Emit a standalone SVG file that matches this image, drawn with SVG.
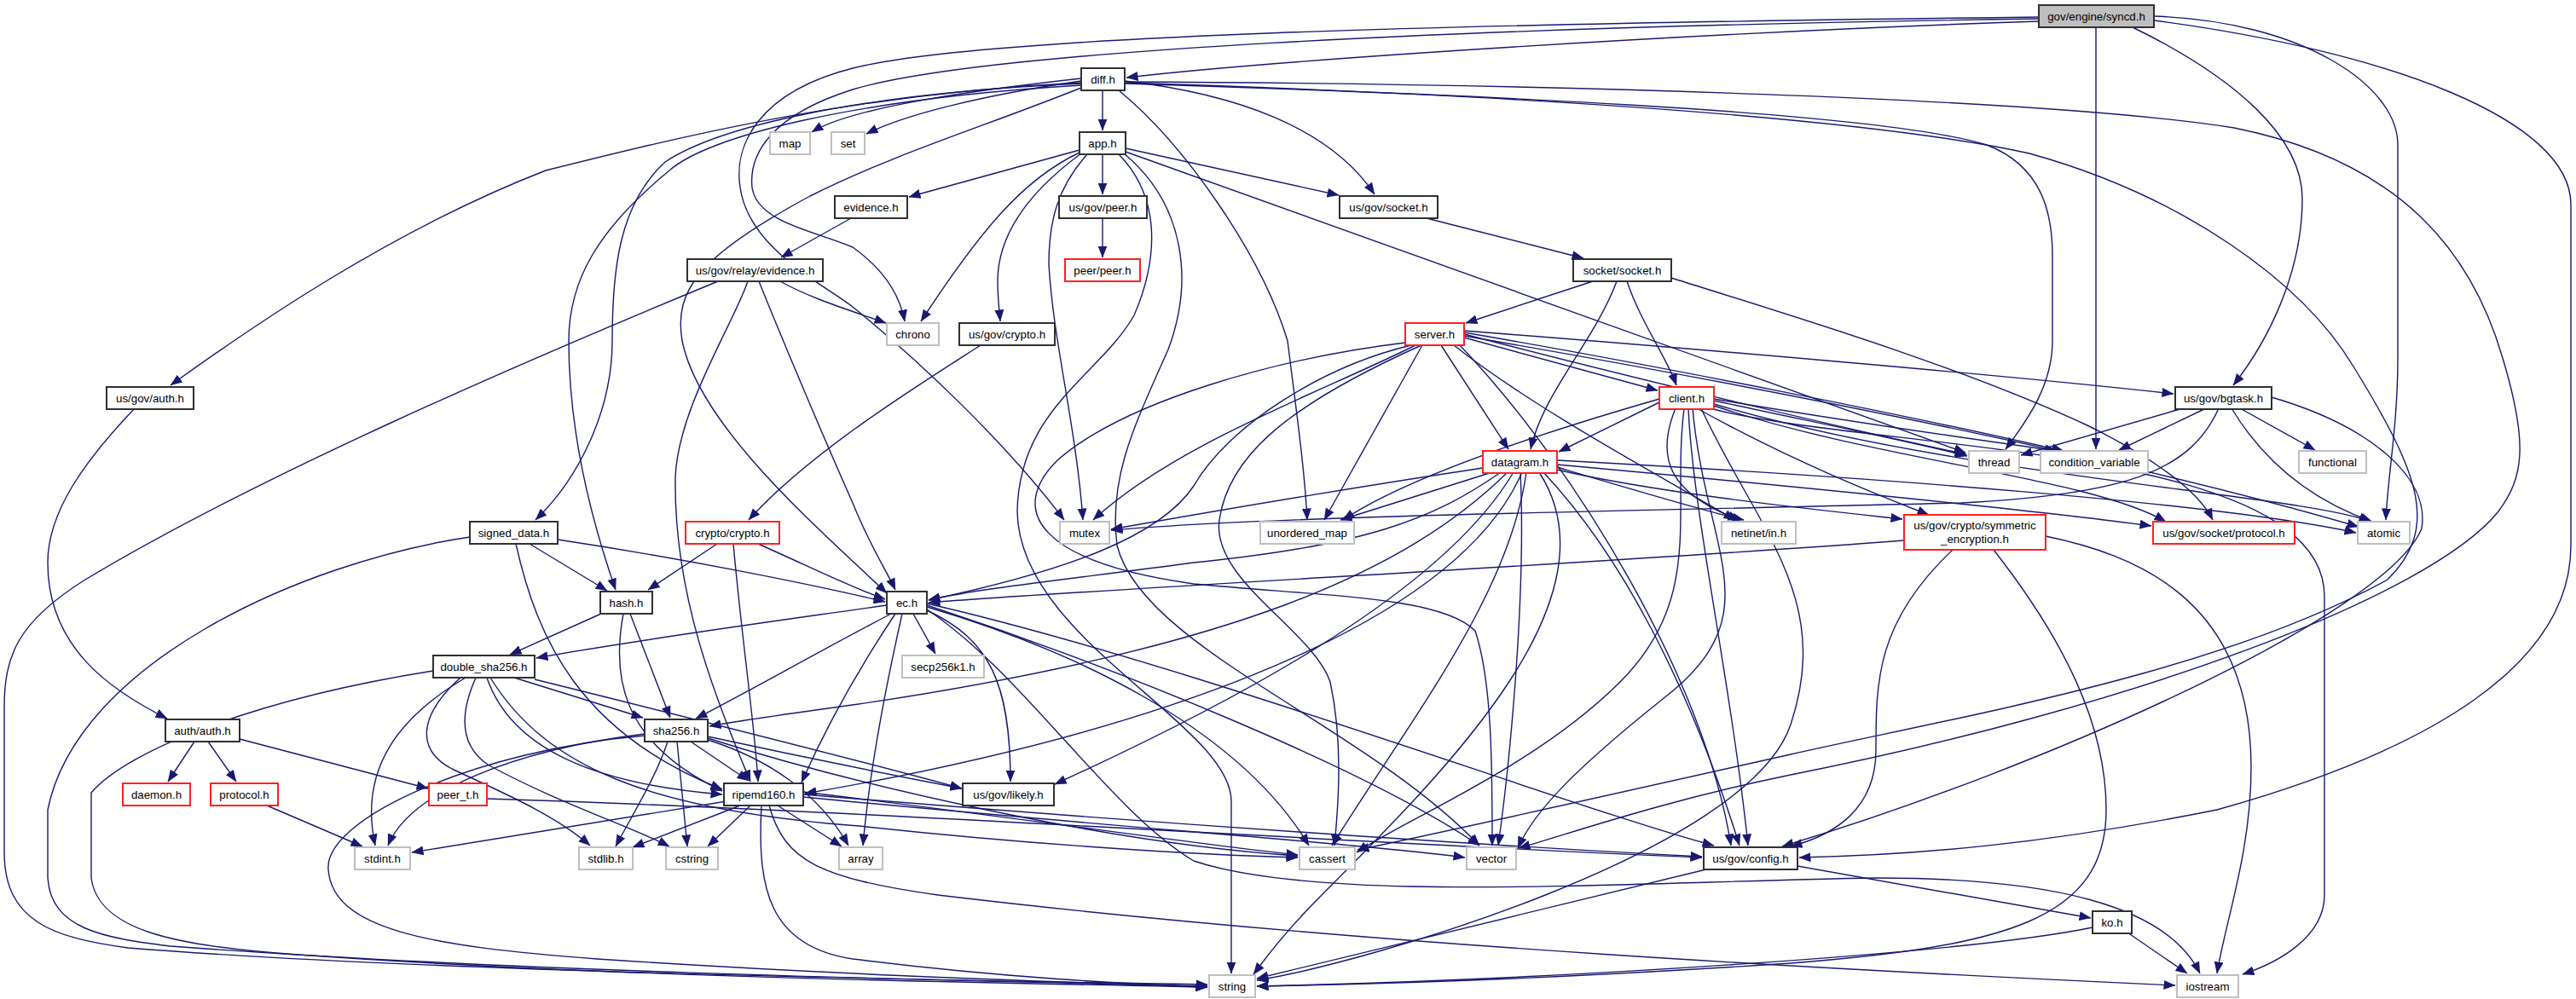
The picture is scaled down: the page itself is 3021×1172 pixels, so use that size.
<svg xmlns="http://www.w3.org/2000/svg" width="3021" height="1172" viewBox="0 0 3021 1172">
<defs>
<marker id="ah" viewBox="0 0 14 12" markerWidth="14" markerHeight="12" refX="13.5" refY="6" orient="auto" markerUnits="userSpaceOnUse"><path d="M0,0.5 L14,6 L0,11.5 z" fill="#191970"/></marker>
<style>
.e{fill:none;stroke:#191970;stroke-width:1.4;marker-end:url(#ah)}
.n rect{fill:#fff;stroke-width:2}
.b rect{stroke:#303030}
.g rect{stroke:#bfbfbf}
.r rect{stroke:#ff2020}
.cur rect{fill:#bfbfbf;stroke:#303030}
text{font-family:"Liberation Sans",Arial,Helvetica,sans-serif;font-size:13.3px;fill:#000;text-anchor:middle}
</style>
</defs>
<rect width="3021" height="1172" fill="#fff"/>
<g id="connectors">
<path class="e" d="M2391,25 C2000,38 1500,70 1321,91"/>
<path class="e" d="M2391,20 C1700,28 1150,42 1000,80 C890,108 860,170 868,220 C878,290 960,330 1000,360 C1080,425 1180,520 1248,610"/>
<path class="e" d="M2391,22 C1700,32 1150,60 1000,105 C905,135 878,180 882,220 C888,262 960,272 1000,290 C1035,315 1055,345 1061,377"/>
<path class="e" d="M2458,32 L2458,527"/>
<path class="e" d="M2501,32 C2620,90 2700,160 2700,233 C2700,320 2660,400 2619,452"/>
<path class="e" d="M2526,19 C2700,25 2812,100 2812,170 L2812,420 C2812,500 2800,560 2798,610"/>
<path class="e" d="M2526,24 C2800,60 3015,140 3015,240 L3015,640 C3015,780 2850,880 2600,950 C2400,990 2250,1003 2110,1006"/>
<path class="e" d="M1268,92 C1150,105 1000,125 952,155"/>
<path class="e" d="M1268,95 C1150,112 1060,135 1016,157"/>
<path class="e" d="M1268,97 C1000,110 800,160 640,200 C460,270 300,380 200,452"/>
<path class="e" d="M1268,98 C1000,110 840,150 780,190 C725,240 718,320 718,400 C718,480 680,560 628,610"/>
<path class="e" d="M1268,100 C1000,116 830,160 785,200 C700,270 667,330 667,400 C667,500 690,600 722,692"/>
<path class="e" d="M1268,103 C1150,150 1050,180 950,230 C820,300 790,340 800,400 C820,500 960,620 1040,696"/>
<path class="e" d="M1293,106 L1293,153"/>
<path class="e" d="M1319,95 C1450,110 1560,150 1612,228"/>
<path class="e" d="M1312,106 C1390,170 1480,300 1510,400 C1520,480 1530,550 1533,610"/>
<path class="e" d="M1319,98 C1700,110 2200,130 2330,170 C2395,195 2407,250 2407,300 L2407,400 C2407,450 2380,490 2352,527"/>
<path class="e" d="M1319,97 C1800,112 2200,140 2380,180 C2560,230 2700,330 2760,430 C2840,560 2860,620 2800,680 C2600,790 2300,840 2100,885 C1900,930 1700,975 1592,997"/>
<path class="e" d="M1319,96 C1800,98 2400,115 2620,150 C2820,190 2900,300 2935,420 C2965,520 2960,560 2930,600 C2850,700 2500,830 2100,909 C1950,940 1850,975 1781,995"/>
<path class="e" d="M1266,176 L1066,231"/>
<path class="e" d="M1266,179 C1200,210 1150,270 1080,377"/>
<path class="e" d="M1268,180 C1200,230 1170,280 1170,330 C1170,350 1172,365 1173,377"/>
<path class="e" d="M1275,181 C1240,220 1230,260 1230,310 C1235,400 1262,500 1270,610"/>
<path class="e" d="M1293,181 L1293,228"/>
<path class="e" d="M1312,181 C1360,230 1360,300 1330,370 C1290,440 1195,480 1193,600 C1195,750 1444,850 1444,940 L1444,1142"/>
<path class="e" d="M1318,180 C1390,240 1400,330 1370,410 C1330,500 1300,560 1310,640 C1340,760 1600,850 1735,992"/>
<path class="e" d="M1320,174 L1570,229"/>
<path class="e" d="M1320,178 L2305,531"/>
<path class="e" d="M998,256 L916,302"/>
<path class="e" d="M1293,256 L1293,302"/>
<path class="e" d="M1673,256 L1857,303"/>
<path class="e" d="M842,330 C600,430 300,560 100,680 C20,730 5,770 5,830 L5,1000 C5,1080 60,1100 150,1112 C500,1140 1100,1150 1416,1155"/>
<path class="e" d="M877,330 C860,380 795,480 792,560 C790,700 840,820 880,917"/>
<path class="e" d="M890,330 C910,380 960,500 1000,590 C1020,640 1040,670 1050,692"/>
<path class="e" d="M915,330 C950,350 1000,365 1039,379"/>
<path class="e" d="M1868,330 L1719,379"/>
<path class="e" d="M1908,330 C1925,380 1955,420 1966,452"/>
<path class="e" d="M1896,330 C1870,400 1810,460 1795,527"/>
<path class="e" d="M1960,326 C2100,370 2300,430 2450,500 C2540,545 2580,580 2595,610"/>
<path class="e" d="M1150,405 C1080,450 950,530 878,610"/>
<path class="e" d="M1717,396 L1944,458"/>
<path class="e" d="M1690,405 L1769,527"/>
<path class="e" d="M1660,405 C1550,460 1380,520 1282,610"/>
<path class="e" d="M1668,405 L1553,610"/>
<path class="e" d="M1655,405 C1550,430 1440,500 1400,570 C1360,630 1250,670 1089,704"/>
<path class="e" d="M1667,405 C1500,480 1440,540 1430,610 C1420,680 1540,740 1560,800 C1575,870 1570,940 1565,992"/>
<path class="e" d="M1648,402 C1500,420 1320,470 1240,540 C1180,600 1220,660 1400,685 C1560,700 1690,700 1730,740 C1750,800 1750,900 1750,992"/>
<path class="e" d="M1705,405 C1800,480 1950,560 2035,610"/>
<path class="e" d="M1717,392 C1900,440 2150,500 2306,533"/>
<path class="e" d="M1717,390 C1950,430 2250,490 2420,529"/>
<path class="e" d="M1717,388 C2000,410 2350,440 2549,462"/>
<path class="e" d="M1717,394 C2100,460 2500,540 2766,618"/>
<path class="e" d="M1712,405 C1850,550 2000,800 2030,992"/>
<path class="e" d="M1946,472 L1828,530"/>
<path class="e" d="M1946,468 C1800,510 1650,560 1575,610"/>
<path class="e" d="M2010,470 C2150,500 2250,520 2307,535"/>
<path class="e" d="M2010,468 C2200,500 2350,520 2412,529"/>
<path class="e" d="M1965,479 C1940,540 1960,580 2040,610"/>
<path class="e" d="M1990,479 C2100,540 2200,580 2262,604"/>
<path class="e" d="M2010,476 C2200,540 2450,560 2540,612"/>
<path class="e" d="M2010,474 C2300,560 2700,580 2780,612"/>
<path class="e" d="M2005,479 C2200,530 2726,520 2726,700 L2726,1050 C2726,1100 2670,1130 2630,1143"/>
<path class="e" d="M1980,479 C1985,600 2030,800 2050,992"/>
<path class="e" d="M1975,479 C1960,600 2000,700 1900,800 C1800,900 1650,960 1591,1000"/>
<path class="e" d="M1985,479 C2000,650 2080,720 1950,820 C1850,900 1800,950 1780,995"/>
<path class="e" d="M1995,479 C2060,620 2150,700 2100,850 C2050,1000 1600,1130 1474,1150"/>
<path class="e" d="M1739,549 C1600,570 1450,595 1303,621"/>
<path class="e" d="M1750,554 L1572,610"/>
<path class="e" d="M1760,554 C1680,610 1600,640 1400,660 C1250,680 1150,690 1089,704"/>
<path class="e" d="M1775,554 C1700,680 1500,800 1237,920"/>
<path class="e" d="M1768,554 C1650,670 1450,760 1007,826 C920,838 870,845 832,852"/>
<path class="e" d="M1785,554 C1700,750 1300,870 944,931"/>
<path class="e" d="M1790,554 C1770,700 1650,850 1562,992"/>
<path class="e" d="M1783,554 C1790,700 1770,900 1757,992"/>
<path class="e" d="M1810,554 C1900,650 1980,800 2040,992"/>
<path class="e" d="M1826,548 C1900,570 2000,600 2045,610"/>
<path class="e" d="M1826,551 C1950,580 2150,600 2231,609"/>
<path class="e" d="M1826,545 C2100,570 2400,600 2523,617"/>
<path class="e" d="M1826,540 C2200,560 2600,590 2763,625"/>
<path class="e" d="M1805,554 C1900,700 1700,900 1550,1050 C1500,1100 1480,1130 1470,1143"/>
<path class="e" d="M2560,479 L2370,534"/>
<path class="e" d="M2587,479 L2485,528"/>
<path class="e" d="M2627,479 L2715,528"/>
<path class="e" d="M2617,479 C2660,550 2720,590 2782,612"/>
<path class="e" d="M2602,479 C2570,550 2500,580 2300,590 C1900,600 1500,605 1303,622"/>
<path class="e" d="M2664,466 C2780,500 2850,560 2840,620 C2800,720 2400,900 2090,993"/>
<path class="e" d="M841,638 L760,692"/>
<path class="e" d="M889,638 C950,665 1000,690 1038,703"/>
<path class="e" d="M860,638 C870,750 885,850 889,917"/>
<path class="e" d="M621,638 L712,693"/>
<path class="e" d="M654,633 C800,655 950,685 1038,706"/>
<path class="e" d="M605,638 C630,750 680,860 847,926"/>
<path class="e" d="M551,630 C350,660 90,780 56,950 L56,1030 C60,1090 120,1100 200,1110 C600,1140 1100,1150 1416,1157"/>
<path class="e" d="M705,720 L598,768"/>
<path class="e" d="M739,720 L786,842"/>
<path class="e" d="M731,720 C718,790 725,870 847,928"/>
<path class="e" d="M1071,720 L1097,767"/>
<path class="e" d="M1087,716 C1160,750 1185,800 1185,917"/>
<path class="e" d="M1040,710 C900,730 750,750 629,772"/>
<path class="e" d="M1045,720 C950,770 880,810 816,843"/>
<path class="e" d="M1050,720 C1010,780 970,850 940,918"/>
<path class="e" d="M1058,720 C1040,800 1020,900 1012,992"/>
<path class="e" d="M1087,712 C1250,760 1450,850 1535,992"/>
<path class="e" d="M1087,710 C1300,780 1600,900 1735,992"/>
<path class="e" d="M1087,708 C1400,780 1850,950 2010,992"/>
<path class="e" d="M1087,715 C1200,790 1300,950 1400,1010 C1550,1060 1900,1035 2200,1030 C2400,1030 2540,1060 2580,1142"/>
<path class="e" d="M603,795 L754,842"/>
<path class="e" d="M546,795 C470,840 420,900 440,992"/>
<path class="e" d="M540,795 C490,840 488,880 530,902 C585,928 650,955 692,992"/>
<path class="e" d="M558,795 C538,840 540,875 572,897 C650,940 740,970 785,993"/>
<path class="e" d="M571,795 C600,880 700,920 847,932"/>
<path class="e" d="M627,797 C800,840 1000,890 1128,925"/>
<path class="e" d="M575,795 C640,900 760,950 1007,969 C1200,990 1400,1003 1522,1006"/>
<path class="e" d="M508,787 C300,820 150,880 107,930 L107,1030 C115,1090 200,1110 350,1120 C700,1145 1100,1152 1416,1158"/>
<path class="e" d="M810,870 L878,916"/>
<path class="e" d="M756,861 C600,880 480,930 455,992"/>
<path class="e" d="M783,870 C770,910 745,950 722,993"/>
<path class="e" d="M794,870 L806,993"/>
<path class="e" d="M830,868 C900,890 960,930 995,992"/>
<path class="e" d="M830,864 C950,890 1050,910 1128,925"/>
<path class="e" d="M756,863 C560,880 380,960 385,1020 C390,1090 500,1110 700,1125 C1000,1145 1250,1152 1416,1158"/>
<path class="e" d="M830,866 C1000,920 1300,990 1522,1004"/>
<path class="e" d="M852,940 L483,1000"/>
<path class="e" d="M868,945 L742,994"/>
<path class="e" d="M880,945 L830,993"/>
<path class="e" d="M912,945 L987,993"/>
<path class="e" d="M893,945 C888,1040 900,1110 1000,1125 C1200,1150 1350,1155 1416,1158"/>
<path class="e" d="M902,945 C920,1010 960,1030 1100,1050 C1600,1110 2200,1140 2551,1156"/>
<path class="e" d="M942,929 C1200,960 1400,990 1522,1003"/>
<path class="e" d="M942,932 C1400,970 1800,995 1996,1005"/>
<path class="e" d="M942,935 C1300,970 1600,990 1718,1006"/>
<path class="e" d="M157,480 C100,540 56,600 56,660 C56,760 130,810 196,843"/>
<path class="e" d="M228,870 L197,917"/>
<path class="e" d="M244,870 L277,917"/>
<path class="e" d="M281,867 L502,925"/>
<path class="e" d="M313,945 L425,993"/>
<path class="e" d="M571,937 C1000,950 1600,990 1996,1006"/>
<path class="e" d="M2233,634 C1900,660 1300,690 1089,707"/>
<path class="e" d="M2290,645 C2200,730 2200,800 2200,880 C2200,950 2150,980 2100,993"/>
<path class="e" d="M2338,645 C2420,750 2470,850 2470,950 C2470,1080 2350,1110 2100,1130 C1800,1150 1600,1155 1474,1157"/>
<path class="e" d="M2399,629 C2500,650 2640,700 2640,900 C2640,1000 2610,1080 2600,1142"/>
<path class="e" d="M2108,1016 L2452,1077"/>
<path class="e" d="M2005,1019 L1474,1148"/>
<path class="e" d="M2495,1094 L2565,1142"/>
<path class="e" d="M2454,1088 C2300,1120 1800,1150 1474,1157"/>
</g>
<g id="n_syncd" class="n cur"><rect x="2391" y="6" width="135" height="26"/><text x="2458.5" y="23.7">gov/engine/syncd.h</text></g>
<g id="n_diff" class="n b"><rect x="1268" y="80" width="51" height="26"/><text x="1293.5" y="97.7">diff.h</text></g>
<g id="n_map" class="n g"><rect x="903" y="155" width="47" height="26"/><text x="926.5" y="172.7">map</text></g>
<g id="n_set" class="n g"><rect x="975" y="155" width="39" height="26"/><text x="994.5" y="172.7">set</text></g>
<g id="n_app" class="n b"><rect x="1266" y="155" width="54" height="26"/><text x="1293" y="172.7">app.h</text></g>
<g id="n_evidence" class="n b"><rect x="979" y="230" width="85" height="26"/><text x="1021.5" y="247.7">evidence.h</text></g>
<g id="n_peer" class="n b"><rect x="1242" y="230" width="103" height="26"/><text x="1293.5" y="247.7">us/gov/peer.h</text></g>
<g id="n_socket" class="n b"><rect x="1571" y="230" width="115" height="26"/><text x="1628.5" y="247.7">us/gov/socket.h</text></g>
<g id="n_relay" class="n b"><rect x="806" y="304" width="159" height="26"/><text x="885.5" y="321.7">us/gov/relay/evidence.h</text></g>
<g id="n_peerpeer" class="n r"><rect x="1249" y="304" width="88" height="26"/><text x="1293" y="321.7">peer/peer.h</text></g>
<g id="n_socketsocket" class="n b"><rect x="1845" y="304" width="115" height="26"/><text x="1902.5" y="321.7">socket/socket.h</text></g>
<g id="n_chrono" class="n g"><rect x="1040" y="379" width="61" height="26"/><text x="1070.5" y="396.7">chrono</text></g>
<g id="n_crypto" class="n b"><rect x="1125" y="379" width="112" height="26"/><text x="1181" y="396.7">us/gov/crypto.h</text></g>
<g id="n_server" class="n r"><rect x="1648" y="379" width="69" height="26"/><text x="1682.5" y="396.7">server.h</text></g>
<g id="n_auth" class="n b"><rect x="125" y="454" width="102" height="26"/><text x="176" y="471.7">us/gov/auth.h</text></g>
<g id="n_client" class="n r"><rect x="1946" y="454" width="64" height="26"/><text x="1978" y="471.7">client.h</text></g>
<g id="n_bgtask" class="n b"><rect x="2551" y="454" width="113" height="26"/><text x="2607.5" y="471.7">us/gov/bgtask.h</text></g>
<g id="n_datagram" class="n r"><rect x="1739" y="529" width="87" height="26"/><text x="1782.5" y="546.7">datagram.h</text></g>
<g id="n_thread" class="n g"><rect x="2309" y="529" width="59" height="26"/><text x="2338.5" y="546.7">thread</text></g>
<g id="n_condvar" class="n g"><rect x="2393" y="529" width="126" height="26"/><text x="2456" y="546.7">condition_variable</text></g>
<g id="n_functional" class="n g"><rect x="2696" y="529" width="79" height="26"/><text x="2735.5" y="546.7">functional</text></g>
<g id="n_signed" class="n b"><rect x="551" y="612" width="103" height="26"/><text x="602.5" y="629.7">signed_data.h</text></g>
<g id="n_cryptocrypto" class="n r"><rect x="804" y="612" width="110" height="26"/><text x="859" y="629.7">crypto/crypto.h</text></g>
<g id="n_mutex" class="n g"><rect x="1243" y="612" width="58" height="26"/><text x="1272" y="629.7">mutex</text></g>
<g id="n_umap" class="n g"><rect x="1478" y="612" width="110" height="26"/><text x="1533" y="629.7">unordered_map</text></g>
<g id="n_netinet" class="n g"><rect x="2019" y="612" width="87" height="26"/><text x="2062.5" y="629.7">netinet/in.h</text></g>
<g id="n_symenc" class="n r"><rect x="2233" y="604" width="166" height="41"/><text x="2316" y="621">us/gov/crypto/symmetric</text><text x="2316" y="637">_encryption.h</text></g>
<g id="n_protocolh" class="n r"><rect x="2525" y="612" width="166" height="26"/><text x="2608" y="629.7">us/gov/socket/protocol.h</text></g>
<g id="n_atomic" class="n g"><rect x="2765" y="612" width="61" height="26"/><text x="2795.5" y="629.7">atomic</text></g>
<g id="n_hash" class="n b"><rect x="704" y="694" width="61" height="26"/><text x="734.5" y="711.7">hash.h</text></g>
<g id="n_ec" class="n b"><rect x="1040" y="694" width="47" height="26"/><text x="1063.5" y="711.7">ec.h</text></g>
<g id="n_dsha" class="n b"><rect x="508" y="769" width="119" height="26"/><text x="567.5" y="786.7">double_sha256.h</text></g>
<g id="n_secp" class="n g"><rect x="1058" y="769" width="96" height="26"/><text x="1106" y="786.7">secp256k1.h</text></g>
<g id="n_authauth" class="n b"><rect x="194" y="844" width="87" height="26"/><text x="237.5" y="861.7">auth/auth.h</text></g>
<g id="n_sha256" class="n b"><rect x="756" y="844" width="74" height="26"/><text x="793" y="861.7">sha256.h</text></g>
<g id="n_daemon" class="n r"><rect x="144" y="919" width="79" height="26"/><text x="183.5" y="936.7">daemon.h</text></g>
<g id="n_protocol" class="n r"><rect x="247" y="919" width="79" height="26"/><text x="286.5" y="936.7">protocol.h</text></g>
<g id="n_peert" class="n r"><rect x="503" y="919" width="68" height="26"/><text x="537" y="936.7">peer_t.h</text></g>
<g id="n_ripemd" class="n b"><rect x="849" y="919" width="93" height="26"/><text x="895.5" y="936.7">ripemd160.h</text></g>
<g id="n_likely" class="n b"><rect x="1129" y="919" width="107" height="26"/><text x="1182.5" y="936.7">us/gov/likely.h</text></g>
<g id="n_stdint" class="n g"><rect x="416" y="994" width="65" height="26"/><text x="448.5" y="1011.7">stdint.h</text></g>
<g id="n_stdlib" class="n g"><rect x="679" y="994" width="63" height="26"/><text x="710.5" y="1011.7">stdlib.h</text></g>
<g id="n_cstring" class="n g"><rect x="781" y="994" width="61" height="26"/><text x="811.5" y="1011.7">cstring</text></g>
<g id="n_array" class="n g"><rect x="984" y="994" width="51" height="26"/><text x="1009.5" y="1011.7">array</text></g>
<g id="n_cassert" class="n g"><rect x="1524" y="994" width="65" height="26"/><text x="1556.5" y="1011.7">cassert</text></g>
<g id="n_vector" class="n g"><rect x="1720" y="994" width="58" height="26"/><text x="1749" y="1011.7">vector</text></g>
<g id="n_config" class="n b"><rect x="1998" y="994" width="110" height="26"/><text x="2053" y="1011.7">us/gov/config.h</text></g>
<g id="n_ko" class="n b"><rect x="2454" y="1069" width="46" height="26"/><text x="2477" y="1086.7">ko.h</text></g>
<g id="n_string" class="n g"><rect x="1418" y="1144" width="54" height="26"/><text x="1445" y="1161.7">string</text></g>
<g id="n_iostream" class="n g"><rect x="2553" y="1144" width="72" height="26"/><text x="2589" y="1161.7">iostream</text></g>
</svg>
